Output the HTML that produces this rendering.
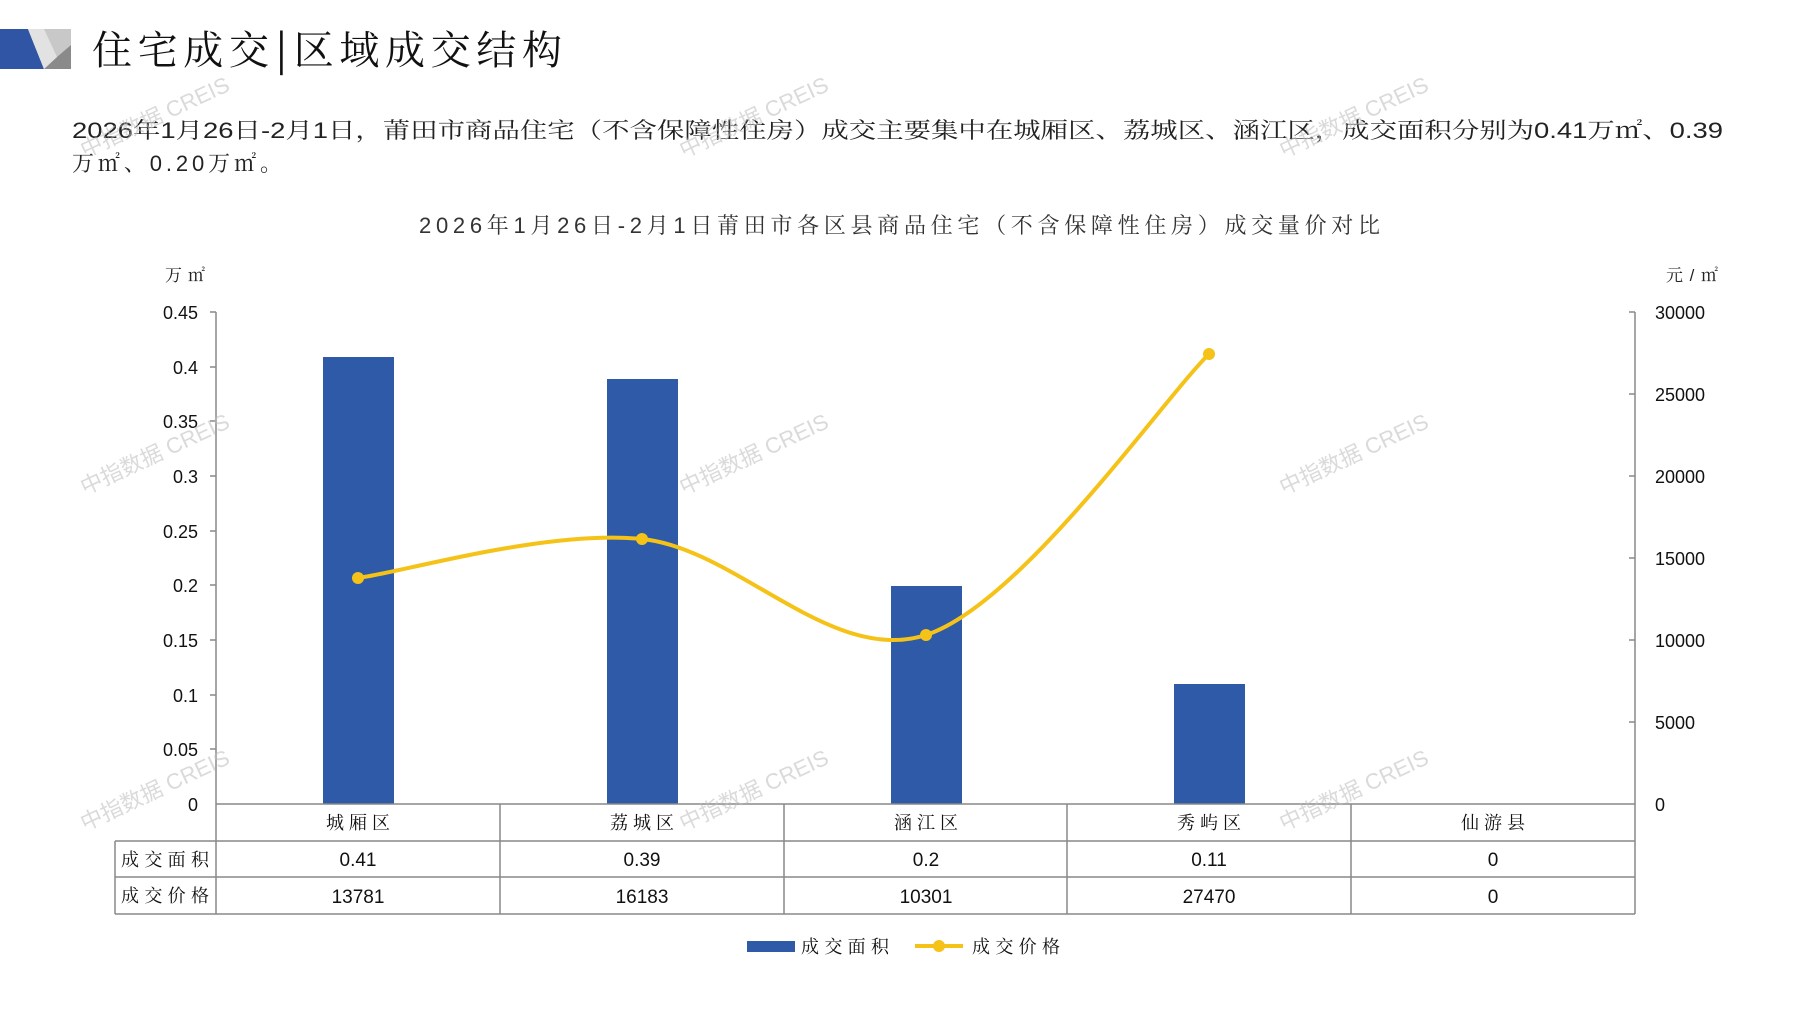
<!DOCTYPE html>
<html><head><meta charset="utf-8"><style>
body{margin:0;background:#fff;}
svg{display:block;}
</style></head><body>
<svg width="1797" height="1010" viewBox="0 0 1797 1010" xmlns="http://www.w3.org/2000/svg" font-family="'Liberation Sans','Noto Serif CJK SC',serif">
<rect width="1797" height="1010" fill="#fff"/>
<polygon points="0,29 28,29 44,69 0,69" fill="#2f55a4"/>
<polygon points="28,29 71,29 71,69 44,69" fill="#c8c8c8"/>
<polygon points="44,69 71,69 71,45 57,57" fill="#8a8a8a"/>
<polygon points="28,29 44,29 57,57 44,69" fill="#e2e2e2"/>
<text x="92" y="64" font-size="40" font-family="'Noto Serif CJK SC',serif" fill="#111" textLength="470" lengthAdjust="spacing">住宅成交<tspan font-weight="bold">|</tspan>区域成交结构</text>
<text x="72" y="138" font-size="22" font-family="'Liberation Sans','Noto Serif CJK SC',serif" fill="#222" textLength="1651" lengthAdjust="spacingAndGlyphs">2026年1月26日-2月1日，莆田市商品住宅（不含保障性住房）成交主要集中在城厢区、荔城区、涵江区，成交面积分别为0.41万㎡、0.39</text>
<text x="72" y="171" font-size="22" font-family="'Liberation Sans','Noto Serif CJK SC',serif" fill="#222" textLength="210" lengthAdjust="spacing">万㎡、0.20万㎡。</text>
<text x="419" y="233" font-size="22" font-family="'Liberation Sans','Noto Serif CJK SC',serif" fill="#333" textLength="961" lengthAdjust="spacing">2026年1月26日-2月1日莆田市各区县商品住宅（不含保障性住房）成交量价对比</text>
<text x="165" y="281" font-size="17" font-family="'Liberation Sans','Noto Serif CJK SC',serif" fill="#222" textLength="40" lengthAdjust="spacing">万㎡</text>
<text x="1666" y="281" font-size="17" font-family="'Liberation Sans','Noto Serif CJK SC',serif" fill="#222" textLength="52" lengthAdjust="spacing">元/㎡</text>
<g stroke="#888" stroke-width="1.5" fill="none">
<line x1="216" y1="312" x2="216" y2="804"/>
<line x1="1635" y1="312" x2="1635" y2="804"/>
<line x1="210" y1="312" x2="216" y2="312"/><line x1="210" y1="367" x2="216" y2="367"/><line x1="210" y1="421" x2="216" y2="421"/><line x1="210" y1="476" x2="216" y2="476"/><line x1="210" y1="531" x2="216" y2="531"/><line x1="210" y1="585" x2="216" y2="585"/><line x1="210" y1="640" x2="216" y2="640"/><line x1="210" y1="695" x2="216" y2="695"/><line x1="210" y1="749" x2="216" y2="749"/>
<line x1="1629" y1="312" x2="1635" y2="312"/><line x1="1629" y1="394" x2="1635" y2="394"/><line x1="1629" y1="476" x2="1635" y2="476"/><line x1="1629" y1="558" x2="1635" y2="558"/><line x1="1629" y1="640" x2="1635" y2="640"/><line x1="1629" y1="722" x2="1635" y2="722"/>
</g>
<g font-size="18" fill="#111" text-anchor="end">
<text x="198" y="319">0.45</text><text x="198" y="374">0.4</text><text x="198" y="428">0.35</text><text x="198" y="483">0.3</text><text x="198" y="538">0.25</text><text x="198" y="592">0.2</text><text x="198" y="647">0.15</text><text x="198" y="702">0.1</text><text x="198" y="756">0.05</text><text x="198" y="811">0</text>
</g>
<g font-size="18" fill="#111">
<text x="1655" y="319">30000</text><text x="1655" y="401">25000</text><text x="1655" y="483">20000</text><text x="1655" y="565">15000</text><text x="1655" y="647">10000</text><text x="1655" y="729">5000</text><text x="1655" y="811">0</text>
</g>
<g fill="#2e5aa7">
<rect x="323" y="357" width="71" height="447"/>
<rect x="607" y="379" width="71" height="425"/>
<rect x="891" y="586" width="71" height="218"/>
<rect x="1174" y="684" width="71" height="120"/>
</g>
<path d="M358,578 C405.3,571.5 547.3,529.5 642,539 C736.7,548.5 831.5,665.8 926,635 C1020.5,604.2 1161.8,400.8 1209,354" stroke="#f5c218" stroke-width="4" fill="none"/>
<g fill="#f5c218"><circle cx="358" cy="578" r="6"/><circle cx="642" cy="539" r="6"/><circle cx="926" cy="635" r="6"/><circle cx="1209" cy="354" r="6"/></g>
<g stroke="#888" stroke-width="1.5" fill="none">
<line x1="216" y1="804" x2="1635" y2="804"/>
<line x1="115" y1="841" x2="1635" y2="841"/>
<line x1="115" y1="877" x2="1635" y2="877"/>
<line x1="115" y1="914" x2="1635" y2="914"/>
<line x1="115" y1="841" x2="115" y2="914"/>
<line x1="216" y1="804" x2="216" y2="914"/>
<line x1="500" y1="804" x2="500" y2="914"/>
<line x1="784" y1="804" x2="784" y2="914"/>
<line x1="1067" y1="804" x2="1067" y2="914"/>
<line x1="1351" y1="804" x2="1351" y2="914"/>
<line x1="1635" y1="804" x2="1635" y2="914"/>
</g>
<g font-size="18" fill="#111" text-anchor="middle" font-family="'Noto Serif CJK SC',serif">
<text x="358" y="829" textLength="64" lengthAdjust="spacing">城厢区</text><text x="642" y="829" textLength="64" lengthAdjust="spacing">荔城区</text><text x="926" y="829" textLength="64" lengthAdjust="spacing">涵江区</text><text x="1209" y="829" textLength="64" lengthAdjust="spacing">秀屿区</text><text x="1493" y="829" textLength="64" lengthAdjust="spacing">仙游县</text>
<text x="165" y="866" textLength="88" lengthAdjust="spacing">成交面积</text><text x="165" y="902" textLength="88" lengthAdjust="spacing">成交价格</text>
</g>
<g font-size="19" fill="#111" text-anchor="middle">
<text x="358" y="866">0.41</text><text x="642" y="866">0.39</text><text x="926" y="866">0.2</text><text x="1209" y="866">0.11</text><text x="1493" y="866">0</text>
<text x="358" y="903">13781</text><text x="642" y="903">16183</text><text x="926" y="903">10301</text><text x="1209" y="903">27470</text><text x="1493" y="903">0</text>
</g>
<rect x="747" y="941" width="48" height="11" fill="#2e5aa7"/>
<text x="801" y="953" font-size="18" font-family="'Noto Serif CJK SC',serif" fill="#111" textLength="88" lengthAdjust="spacing">成交面积</text>
<line x1="915" y1="946" x2="963" y2="946" stroke="#f5c218" stroke-width="4"/>
<circle cx="939" cy="946" r="6" fill="#f5c218"/>
<text x="972" y="953" font-size="18" font-family="'Noto Serif CJK SC',serif" fill="#111" textLength="88" lengthAdjust="spacing">成交价格</text>
<g font-size="22" fill="#bbb" fill-opacity="0.55" text-anchor="middle" font-family="'Liberation Sans','Noto Sans CJK SC',sans-serif">
<text transform="translate(158,124) rotate(-25)">中指数据 CREIS</text>
<text transform="translate(757,124) rotate(-25)">中指数据 CREIS</text>
<text transform="translate(1357,124) rotate(-25)">中指数据 CREIS</text>
<text transform="translate(158,461) rotate(-25)">中指数据 CREIS</text>
<text transform="translate(757,461) rotate(-25)">中指数据 CREIS</text>
<text transform="translate(1357,461) rotate(-25)">中指数据 CREIS</text>
<text transform="translate(158,797) rotate(-25)">中指数据 CREIS</text>
<text transform="translate(757,797) rotate(-25)">中指数据 CREIS</text>
<text transform="translate(1357,797) rotate(-25)">中指数据 CREIS</text>
</g>
</svg>
</body></html>
